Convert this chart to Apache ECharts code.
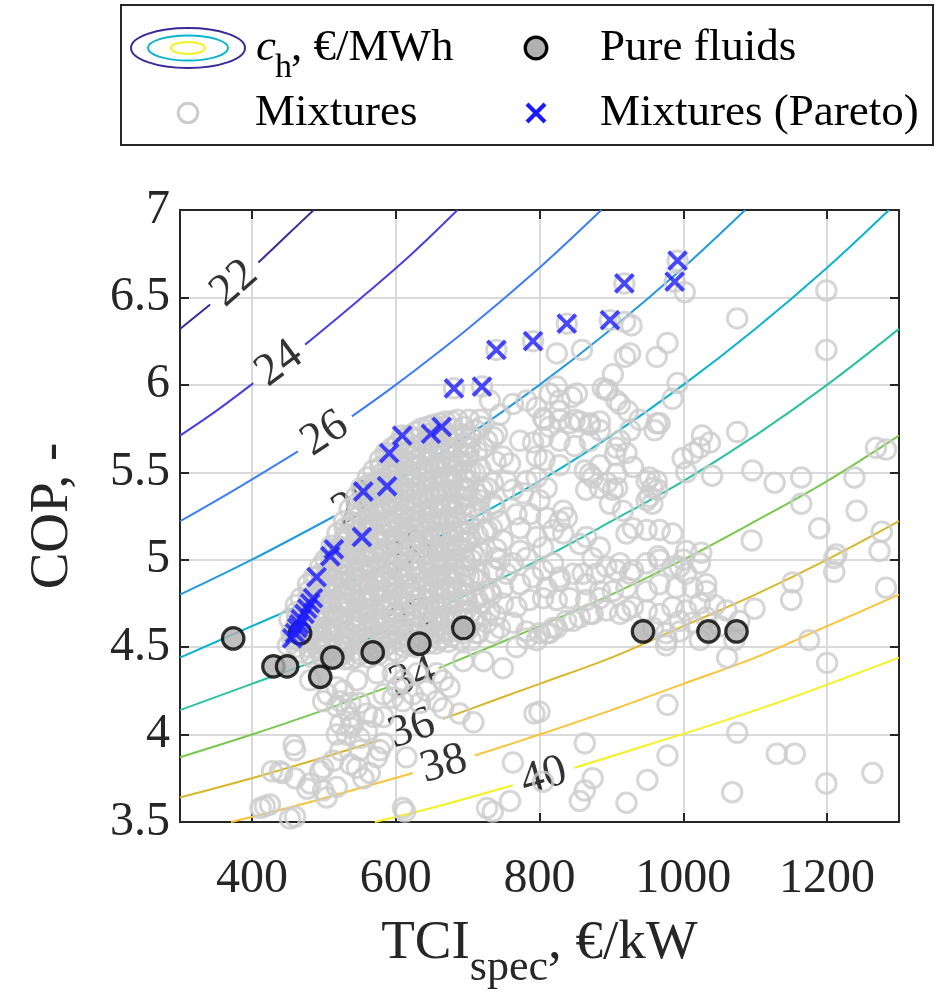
<!DOCTYPE html>
<html>
<head>
<meta charset="utf-8">
<script src="https://cdn.jsdelivr.net/npm/echarts@6/dist/echarts.min.js"></script>
<style>
  html, body { margin: 0; padding: 0; background: #ffffff; }
  #chart { width: 938px; height: 999px; }
</style>
</head>
<body>
<div id="chart"></div>
<script>
// Levelized heat cost contour levels, €/MWh
const levels = [22, 24, 26, 28, 30, 32, 34, 36, 38, 40];

// Contour polylines as [TCI_spec, COP]; null marks the gap where the level label sits
const contour22 = [[300, 6.32], [342, 6.46], null, [409, 6.70], [450, 6.86], [486, 7.00]];
const contour24 = [[300, 5.71], [350, 5.85], [402, 6.01], null, [474, 6.23], [550, 6.49], [620, 6.74], [686, 7.00]];
const contour26 = [[300, 5.22], [380, 5.41], [464, 5.62], null, [539, 5.82], [600, 6.00], [700, 6.32], [800, 6.67], [886, 7.00]];
const contour28 = [[300, 4.80], [400, 5.00], [515, 5.25], null, [575, 5.39], [700, 5.71], [800, 6.00], [900, 6.32], [1000, 6.67], [1086, 7.00]];
const contour30 = [[300, 4.44], [400, 4.62], [500, 4.80], [585, 4.97], null, [655, 5.12], [800, 5.45], [900, 5.71], [1000, 6.00], [1100, 6.32], [1200, 6.67], [1286, 7.00]];
const contour32 = [[300, 4.14], [400, 4.29], [500, 4.44], [590, 4.60], null, [658, 4.72], [800, 5.00], [900, 5.22], [1000, 5.45], [1100, 5.71], [1200, 6.00], [1300, 6.32]];
const contour34 = [[300, 3.87], [400, 4.00], [500, 4.14], [588, 4.27], null, [660, 4.38], [800, 4.62], [900, 4.80], [1000, 5.00], [1100, 5.22], [1200, 5.45], [1300, 5.71]];
const contour36 = [[300, 3.64], [400, 3.75], [500, 3.87], [579, 3.97], null, [666, 4.09], [800, 4.29], [900, 4.44], [1000, 4.62], [1100, 4.80], [1200, 5.00], [1300, 5.22]];
const contour38 = [[371, 3.50], [450, 3.58], [530, 3.67], [624, 3.78], null, [710, 3.88], [800, 4.00], [900, 4.14], [1000, 4.29], [1100, 4.44], [1200, 4.62], [1300, 4.80]];
const contour40 = [[571, 3.50], [650, 3.58], [763, 3.71], null, [849, 3.81], [950, 3.94], [1050, 4.07], [1150, 4.21], [1300, 4.44]];

// Pure working fluids [TCI_spec, COP]
const pureFluids = [[374, 4.55], [467, 4.58], [430, 4.39], [449, 4.39], [495, 4.33], [512, 4.44],
  [568, 4.47], [633, 4.52], [694, 4.61], [944, 4.59], [1035, 4.59], [1074, 4.59]];

// Pareto-optimal mixtures [TCI_spec, COP]
const pareto = [[992, 6.71], [988, 6.59], [918, 6.58], [898, 6.37], [838, 6.35], [791, 6.25], [740, 6.20],
  [720, 5.99], [681, 5.98], [664, 5.76], [649, 5.72], [609, 5.71], [591, 5.61], [588, 5.42], [555, 5.39],
  [553, 5.13], [514, 5.06], [509, 5.02], [490, 4.90], [485, 4.78], [481, 4.75], [477, 4.72], [473, 4.69],
  [468, 4.66], [466, 4.63], [463, 4.61], [460, 4.58], [456, 4.55]];

// Mixtures, spread part of the cloud [TCI_spec, COP]
const mixtures = [
  [1002, 6.53], [1199, 6.54], [1075, 6.38], [1199, 6.20], [919, 6.36], [928, 6.34], [859, 6.20], [824, 6.18],
  [926, 6.18], [919, 6.16], [963, 6.16], [978, 6.24], [902, 6.06], [895, 5.97], [888, 5.98], [912, 5.89],
  [923, 5.85], [992, 6.01], [985, 5.92], [824, 5.99], [845, 5.93], [1075, 5.73], [1026, 5.71], [1037, 5.67],
  [963, 5.78], [960, 5.74], [999, 5.58], [1004, 5.50], [1040, 5.48], [1096, 5.51], [1127, 5.44], [1164, 5.47],
  [1238, 5.47], [1268, 5.64], [1282, 5.63], [1164, 5.32], [1241, 5.28], [870, 5.49], [894, 5.44], [908, 5.41],
  [953, 5.47], [957, 5.41], [949, 5.34],
  [807, 5.80], [828, 5.85], [849, 5.80], [870, 5.77], [884, 5.74], [828, 5.68], [849, 5.65], [870, 5.68],
  [807, 5.57], [828, 5.54], [863, 5.51], [884, 5.54], [905, 5.60], [912, 5.68], [926, 5.74], [939, 5.80],
  [731, 5.91], [745, 5.83], [717, 5.80], [763, 5.89], [782, 5.91], [796, 5.87], [814, 5.95], [828, 5.91],
  [852, 5.95], [893, 5.97], [907, 5.91], [828, 5.80], [842, 5.78], [856, 5.79], [870, 5.78], [884, 5.79],
  [805, 5.81], [814, 5.76], [773, 5.68], [791, 5.67], [805, 5.70], [741, 5.72], [727, 5.68], [703, 5.64],
  [699, 5.59], [749, 5.59], [759, 5.55], [796, 5.59], [907, 5.64], [921, 5.61], [930, 5.53], [907, 5.49],
  [874, 5.47], [865, 5.40], [884, 5.41], [902, 5.40], [949, 5.45], [953, 5.36], [898, 5.32], [916, 5.28],
  [930, 5.18], [921, 5.15], [949, 5.17], [865, 5.13], [884, 5.07], [874, 5.01], [838, 5.24], [828, 5.22],
  [819, 5.17], [805, 5.07], [796, 5.13], [773, 5.18], [787, 5.26], [703, 5.45], [727, 5.41], [699, 5.36],
  [717, 5.34], [735, 5.32], [754, 5.45], [763, 5.40], [777, 5.38], [745, 5.22], [768, 5.26], [727, 5.17],
  [703, 5.13], [749, 5.11], [773, 5.05], [707, 5.04], [740, 5.01], [782, 5.45], [796, 5.47], [810, 5.41],
  [800, 5.34], [833, 5.28],
  [967, 5.78], [1023, 5.64], [1013, 5.61], [1189, 5.18], [1095, 5.11], [963, 5.45], [957, 5.32], [964, 5.40],
  [985, 5.15], [967, 5.17], [1025, 5.04], [1213, 5.03], [1276, 5.16], [1273, 5.05], [965, 5.02], [1000, 5.00],
  [1210, 5.01], [1210, 4.93], [1152, 4.87], [1150, 4.77], [1282, 4.84], [1099, 4.72], [1061, 4.44], [978, 4.17],
  [1175, 4.54], [1200, 4.41], [1075, 4.01], [1130, 3.89], [1155, 3.89], [1263, 3.78], [1199, 3.72], [1068, 3.67],
  [978, 3.88], [950, 3.74], [874, 3.75], [863, 3.68], [856, 3.62], [921, 3.61], [863, 3.95], [800, 4.13],
  [995, 4.96], [1032, 4.86], [1060, 4.71], [995, 4.65], [977, 4.54], [958, 4.61], [921, 4.71], [907, 4.94],
  [926, 4.92], [884, 4.82], [860, 4.92], [870, 4.69], [847, 4.65], [824, 4.61], [810, 4.58], [828, 4.90],
  [810, 4.84], [856, 5.09], [833, 5.15], [810, 5.24],
  [745, 5.00], [763, 4.98], [782, 5.01], [754, 4.92], [735, 4.94], [717, 4.88], [731, 4.82], [749, 4.84],
  [773, 4.86], [791, 4.90], [805, 4.94], [819, 4.98], [828, 4.88], [847, 4.92], [865, 4.86], [879, 4.92],
  [893, 4.96], [912, 4.98], [930, 4.94], [949, 4.98], [967, 5.00], [985, 4.96], [1004, 4.92], [1023, 4.98],
  [1013, 4.84], [990, 4.84], [967, 4.86], [949, 4.82], [921, 4.84], [902, 4.82], [884, 4.78], [865, 4.77],
  [842, 4.78], [824, 4.77], [805, 4.78], [786, 4.77], [768, 4.73], [749, 4.75], [731, 4.71], [717, 4.75],
  [699, 4.77], [708, 4.65], [727, 4.64], [745, 4.61], [763, 4.64], [782, 4.59], [800, 4.58], [819, 4.61],
  [837, 4.65], [856, 4.67], [874, 4.69], [893, 4.71], [912, 4.69], [930, 4.73], [949, 4.71], [967, 4.69],
  [985, 4.73], [1004, 4.71], [1023, 4.75], [1032, 4.82], [976, 4.58], [995, 4.59], [1013, 4.64], [1032, 4.67],
  [782, 4.55], [814, 4.58], [749, 4.38], [976, 4.51], [1051, 4.62], [1078, 4.65], [1044, 4.74], [1071, 4.54],
  [1023, 4.54], [1004, 5.05],
  [458, 3.94], [460, 3.91], [439, 3.79], [460, 3.75], [477, 3.69], [495, 3.79], [513, 3.85], [523, 3.91],
  [518, 3.70], [504, 3.64], [532, 4.00], [541, 4.06], [523, 4.06], [550, 3.98], [560, 4.02], [532, 4.14],
  [550, 4.18], [523, 4.19], [505, 4.23], [546, 3.81], [555, 3.75], [564, 3.78], [574, 3.87], [578, 3.91],
  [550, 3.91], [418, 3.59], [425, 3.60], [453, 3.52], [460, 3.53], [615, 3.87], [613, 3.56], [569, 4.10],
  [596, 4.21], [624, 4.23], [634, 4.18], [666, 4.15], [708, 4.07], [793, 4.12], [763, 3.84], [735, 3.56],
  [759, 3.62], [805, 3.73], [518, 4.16], [428, 3.79], [442, 3.78], [481, 3.72], [499, 3.68], [412, 3.58],
  [499, 3.81], [537, 3.83], [518, 4.00], [537, 4.04], [583, 3.95], [527, 4.25], [537, 4.10], [560, 4.12],
  [610, 4.19], [643, 4.25], [666, 4.31], [689, 4.12], [583, 4.10], [583, 4.23], [610, 3.58], [727, 3.58],
  [610, 4.31], [596, 4.35], [546, 4.31], [574, 4.35], [602, 4.27], [630, 4.35], [657, 4.35], [675, 4.27],
  [518, 4.27], [499, 4.19], [537, 4.18], [481, 4.31], [657, 4.19], [694, 4.42], [722, 4.42], [768, 4.50],
  [796, 4.54]
];

// Mixtures, densely packed core of the cloud [TCI_spec, COP]
const mixturesCore = [
  [452, 4.66], [455, 4.58], [450, 4.51],
  [468, 4.78], [472, 4.70], [469, 4.62], [473, 4.54], [467, 4.47],
  [486, 4.90], [489, 4.82], [485, 4.74], [488, 4.66], [486, 4.58], [490, 4.50], [484, 4.44],
  [502, 5.00], [505, 4.93], [501, 4.84], [504, 4.76], [500, 4.68], [506, 4.60], [503, 4.52], [499, 4.44],
  [519, 5.15], [522, 5.07], [518, 5.00], [521, 4.92], [517, 4.84], [523, 4.76], [520, 4.68], [516, 4.60], [522, 4.52], [519, 4.44],
  [536, 5.29], [539, 5.21], [535, 5.14], [538, 5.06], [534, 4.98], [540, 4.90], [537, 4.82], [533, 4.74], [539, 4.66], [536, 4.58], [532, 4.50], [538, 4.43],
  [552, 5.41], [555, 5.34], [551, 5.26], [554, 5.18], [550, 5.10], [556, 5.02], [553, 4.94], [549, 4.86], [555, 4.78], [552, 4.70], [548, 4.62], [554, 4.54], [551, 4.46],
  [569, 5.51], [572, 5.44], [568, 5.36], [571, 5.28], [567, 5.20], [573, 5.12], [570, 5.04], [566, 4.96], [572, 4.88], [569, 4.80], [565, 4.72], [571, 4.64], [568, 4.56], [572, 4.48],
  [586, 5.61], [589, 5.54], [585, 5.46], [588, 5.38], [584, 5.30], [590, 5.22], [587, 5.14], [583, 5.06], [589, 4.98], [586, 4.90], [582, 4.82], [588, 4.74], [585, 4.66], [589, 4.58], [584, 4.50],
  [602, 5.66], [605, 5.58], [601, 5.50], [604, 5.42], [600, 5.34], [606, 5.26], [603, 5.18], [599, 5.10], [605, 5.02], [602, 4.94], [598, 4.86], [604, 4.78], [601, 4.70], [605, 4.62], [600, 4.54], [603, 4.47],
  [619, 5.71], [622, 5.63], [618, 5.55], [621, 5.47], [617, 5.39], [623, 5.31], [620, 5.23], [616, 5.15], [622, 5.07], [619, 4.99], [615, 4.91], [621, 4.83], [618, 4.75], [622, 4.67], [617, 4.59], [620, 4.51],
  [636, 5.75], [639, 5.67], [635, 5.59], [638, 5.51], [634, 5.43], [640, 5.35], [637, 5.27], [633, 5.19], [639, 5.11], [636, 5.03], [632, 4.95], [638, 4.87], [635, 4.79], [639, 4.71], [634, 4.63], [637, 4.55],
  [652, 5.77], [655, 5.70], [651, 5.62], [654, 5.54], [650, 5.46], [656, 5.38], [653, 5.30], [649, 5.22], [655, 5.14], [652, 5.06], [648, 4.98], [654, 4.90], [651, 4.82], [655, 4.74], [650, 4.66], [653, 4.58], [656, 4.52],
  [669, 5.79], [672, 5.71], [668, 5.63], [671, 5.55], [667, 5.47], [673, 5.39], [670, 5.31], [666, 5.23], [672, 5.15], [669, 5.07], [665, 4.99], [671, 4.91], [668, 4.83], [672, 4.75], [667, 4.67], [670, 4.59], [673, 4.53],
  [686, 5.80], [689, 5.72], [685, 5.64], [688, 5.56], [684, 5.48], [690, 5.40], [687, 5.32], [683, 5.24], [689, 5.16], [686, 5.08], [682, 5.00], [688, 4.92], [685, 4.84], [689, 4.76], [684, 4.68], [687, 4.60], [690, 4.54],
  [702, 5.80], [705, 5.70], [701, 5.60], [704, 5.50], [700, 5.40], [706, 5.30], [703, 5.20], [699, 5.10], [705, 5.00], [702, 4.90], [698, 4.80], [704, 4.70], [701, 4.60], [705, 4.54],
  [719, 5.76], [722, 5.64], [718, 5.52], [721, 5.40], [717, 5.28], [723, 5.16], [720, 5.04], [716, 4.92], [722, 4.80], [719, 4.68], [715, 4.58],
  [736, 5.70], [739, 5.56], [735, 5.44], [738, 5.30], [734, 5.18], [740, 5.06], [737, 4.94], [733, 4.80], [739, 4.68], [736, 4.58],
  [461, 4.74], [463, 4.66], [460, 4.58], [462, 4.50],
  [478, 4.86], [480, 4.78], [477, 4.70], [479, 4.62], [476, 4.54], [481, 4.46],
  [495, 4.96], [497, 4.88], [494, 4.80], [496, 4.72], [493, 4.64], [498, 4.56], [495, 4.48],
  [511, 5.08], [513, 5.00], [510, 4.92], [512, 4.84], [509, 4.76], [514, 4.68], [511, 4.60], [508, 4.52], [512, 4.44],
  [528, 5.22], [530, 5.14], [527, 5.06], [529, 4.98], [526, 4.90], [531, 4.82], [528, 4.74], [525, 4.66], [530, 4.58], [527, 4.50], [529, 4.43],
  [545, 5.36], [547, 5.28], [544, 5.20], [546, 5.12], [543, 5.04], [548, 4.96], [545, 4.88], [542, 4.80], [547, 4.72], [544, 4.64], [546, 4.56], [543, 4.48],
  [561, 5.47], [563, 5.39], [560, 5.31], [562, 5.23], [559, 5.15], [564, 5.07], [561, 4.99], [558, 4.91], [563, 4.83], [560, 4.75], [562, 4.67], [559, 4.59], [561, 4.51], [563, 4.44],
  [578, 5.57], [580, 5.49], [577, 5.41], [579, 5.33], [576, 5.25], [581, 5.17], [578, 5.09], [575, 5.01], [580, 4.93], [577, 4.85], [579, 4.77], [576, 4.69], [578, 4.61], [580, 4.53], [577, 4.46],
  [595, 5.64], [597, 5.56], [594, 5.48], [596, 5.40], [593, 5.32], [598, 5.24], [595, 5.16], [592, 5.08], [597, 5.00], [594, 4.92], [596, 4.84], [593, 4.76], [595, 4.68], [597, 4.60], [594, 4.52],
  [611, 5.69], [613, 5.61], [610, 5.53], [612, 5.45], [609, 5.37], [614, 5.29], [611, 5.21], [608, 5.13], [613, 5.05], [610, 4.97], [612, 4.89], [609, 4.81], [611, 4.73], [613, 4.65], [610, 4.57], [612, 4.50],
  [628, 5.73], [630, 5.65], [627, 5.57], [629, 5.49], [626, 5.41], [631, 5.33], [628, 5.25], [625, 5.17], [630, 5.09], [627, 5.01], [629, 4.93], [626, 4.85], [628, 4.77], [630, 4.69], [627, 4.61], [629, 4.53],
  [645, 5.76], [647, 5.68], [644, 5.60], [646, 5.52], [643, 5.44], [648, 5.36], [645, 5.28], [642, 5.20], [647, 5.12], [644, 5.04], [646, 4.96], [643, 4.88], [645, 4.80], [647, 4.72], [644, 4.64], [646, 4.56],
  [661, 5.78], [663, 5.70], [660, 5.62], [662, 5.54], [659, 5.46], [664, 5.38], [661, 5.30], [658, 5.22], [663, 5.14], [660, 5.06], [662, 4.98], [659, 4.90], [661, 4.82], [663, 4.74], [660, 4.66], [662, 4.58],
  [678, 5.79], [680, 5.71], [677, 5.63], [679, 5.55], [676, 5.47], [681, 5.39], [678, 5.31], [675, 5.23], [680, 5.15], [677, 5.07], [679, 4.99], [676, 4.91], [678, 4.83], [680, 4.75], [677, 4.67], [679, 4.59],
  [695, 5.76], [697, 5.66], [694, 5.56], [696, 5.46], [693, 5.36], [698, 5.26], [695, 5.16], [692, 5.06], [697, 4.96], [694, 4.86], [696, 4.76], [693, 4.66], [695, 4.58],
  [711, 5.74], [713, 5.62], [710, 5.50], [712, 5.38], [709, 5.26], [714, 5.14], [711, 5.02], [708, 4.90], [713, 4.78], [710, 4.66], [712, 4.58],
  [462, 4.70], [461, 4.62], [463, 4.54],
  [479, 4.82], [477, 4.74], [480, 4.66], [478, 4.58], [479, 4.50],
  [496, 4.92], [494, 4.84], [497, 4.76], [495, 4.68], [496, 4.60], [494, 4.52], [497, 4.45],
  [512, 5.04], [510, 4.96], [513, 4.88], [511, 4.80], [512, 4.72], [510, 4.64], [513, 4.56], [511, 4.48],
  [529, 5.18], [527, 5.10], [530, 5.02], [528, 4.94], [529, 4.86], [527, 4.78], [530, 4.70], [528, 4.62], [529, 4.54], [527, 4.46],
  [546, 5.32], [544, 5.24], [547, 5.16], [545, 5.08], [546, 5.00], [544, 4.92], [547, 4.84], [545, 4.76], [546, 4.68], [544, 4.60], [547, 4.52], [545, 4.44],
  [562, 5.43], [560, 5.35], [563, 5.27], [561, 5.19], [562, 5.11], [560, 5.03], [563, 4.95], [561, 4.87], [562, 4.79], [560, 4.71], [563, 4.63], [561, 4.55], [562, 4.47],
  [579, 5.53], [577, 5.45], [580, 5.37], [578, 5.29], [579, 5.21], [577, 5.13], [580, 5.05], [578, 4.97], [579, 4.89], [577, 4.81], [580, 4.73], [578, 4.65], [579, 4.57], [577, 4.49],
  [596, 5.60], [594, 5.52], [597, 5.44], [595, 5.36], [596, 5.28], [594, 5.20], [597, 5.12], [595, 5.04], [596, 4.96], [594, 4.88], [597, 4.80], [595, 4.72], [596, 4.64], [594, 4.56], [597, 4.48],
  [612, 5.65], [610, 5.57], [613, 5.49], [611, 5.41], [612, 5.33], [610, 5.25], [613, 5.17], [611, 5.09], [612, 5.01], [610, 4.93], [613, 4.85], [611, 4.77], [612, 4.69], [610, 4.61], [613, 4.53],
  [629, 5.69], [627, 5.61], [630, 5.53], [628, 5.45], [629, 5.37], [627, 5.29], [630, 5.21], [628, 5.13], [629, 5.05], [627, 4.97], [630, 4.89], [628, 4.81], [629, 4.73], [627, 4.65], [630, 4.57], [628, 4.50],
  [646, 5.72], [644, 5.64], [647, 5.56], [645, 5.48], [646, 5.40], [644, 5.32], [647, 5.24], [645, 5.16], [646, 5.08], [644, 5.00], [647, 4.92], [645, 4.84], [646, 4.76], [644, 4.68], [647, 4.60], [645, 4.52],
  [662, 5.74], [660, 5.66], [663, 5.58], [661, 5.50], [662, 5.42], [660, 5.34], [663, 5.26], [661, 5.18], [662, 5.10], [660, 5.02], [663, 4.94], [661, 4.86], [662, 4.78], [660, 4.70], [663, 4.62], [661, 4.54],
  [679, 5.75], [677, 5.67], [680, 5.59], [678, 5.51], [679, 5.43], [677, 5.35], [680, 5.27], [678, 5.19], [679, 5.11], [677, 5.03], [680, 4.95], [678, 4.87], [679, 4.79], [677, 4.71], [680, 4.63], [678, 4.56],
  [696, 5.71], [694, 5.61], [697, 5.51], [695, 5.41], [696, 5.31], [694, 5.21], [697, 5.11], [695, 5.01], [696, 4.91], [694, 4.81], [697, 4.71], [695, 4.62]
];

const xTicks = [400, 600, 800, 1000, 1200];

const contours = [contour22, contour24, contour26, contour28, contour30, contour32, contour34, contour36, contour38, contour40];
const levelColors = ['#3b2a98', '#4a3fe0', '#3c7ef5', '#2299e0', '#0bb3cf', '#2dc29e', '#79c84f', '#d8b72c', '#fbc338', '#f5f020'];

const serif = 'Liberation Serif';
const axisColor = '#262626';
const gridColor = '#dadada';
const mixColor = '#cccccc';
const pureFill = '#b0b0b0';
const paretoColor = '#1a1aff';

const chart = echarts.init(document.getElementById('chart'), null, { renderer: 'canvas' });

const series = [];
contours.forEach(function (c, i) {
  series.push({
    type: 'line',
    name: 'c' + levels[i],
    data: c.map(function (p) { return p === null ? ['-', '-'] : p; }),
    smooth: 0.35,
    symbol: 'none',
    showSymbol: false,
    connectNulls: false,
    lineStyle: { color: levelColors[i], width: 2 },
    z: 1,
    silent: true
  });
});

// Level labels placed in the gaps of the contour lines
series.push({
  id: 'contourLabels',
  type: 'scatter',
  data: [],
  symbolSize: 1,
  itemStyle: { color: 'transparent' },
  label: {
    show: true,
    position: 'inside',
    formatter: function (p) { return String(p.value[2]); },
    fontFamily: serif,
    fontSize: 46,
    color: '#000000'
  },
  z: 1,
  silent: true
});

series.push({
  type: 'scatter',
  name: 'Mixtures',
  data: mixtures.concat(mixturesCore, pareto),
  symbol: 'circle',
  symbolSize: 19.5,
  itemStyle: { color: 'transparent', borderColor: mixColor, borderWidth: 3 },
  z: 3,
  silent: true
});

series.push({
  type: 'scatter',
  name: 'Pure fluids',
  data: pureFluids,
  symbol: 'circle',
  symbolSize: 21.5,
  itemStyle: { color: pureFill, borderColor: '#000000', borderWidth: 3.2 },
  z: 4,
  silent: true
});

series.push({
  type: 'scatter',
  name: 'Mixtures (Pareto)',
  data: pareto,
  symbol: 'path://M0,0L10,10M10,0L0,10',
  symbolSize: 18,
  itemStyle: { color: 'transparent', borderColor: paretoColor, borderWidth: 4 },
  z: 5,
  silent: true
});

const legendFont = { fontFamily: serif, fontSize: 45, fill: '#000000', verticalAlign: 'middle' };

const option = {
  animation: false,
  backgroundColor: '#ffffff',
  grid: { left: 180, right: 39, top: 210, bottom: 177 },
  xAxis: [
    {
      type: 'value', position: 'bottom', min: 300, max: 1300,
      axisLine: { show: true, onZero: false, lineStyle: { color: axisColor, width: 2 } },
      axisTick: { show: true, inside: true, length: 9, customValues: xTicks, lineStyle: { color: axisColor, width: 2 } },
      axisLabel: {
        show: true, customValues: xTicks, margin: 33, fontFamily: serif, fontSize: 48, color: axisColor,
        formatter: function (v) { return String(v); }
      },
      splitLine: { show: true, lineStyle: { color: gridColor, width: 2 } },
      name: '{a|TCI}{b|spec}{a|, €/kW}',
      nameLocation: 'middle',
      nameGap: 94,
      nameTextStyle: {
        color: axisColor,
        rich: {
          a: { fontFamily: serif, fontSize: 55, color: axisColor, verticalAlign: 'top' },
          b: { fontFamily: serif, fontSize: 44, color: axisColor, verticalAlign: 'top', padding: [30, 0, 0, 0] }
        }
      }
    },
    {
      type: 'value', position: 'top', min: 300, max: 1300,
      axisLine: { show: true, onZero: false, lineStyle: { color: axisColor, width: 2 } },
      axisTick: { show: true, inside: true, length: 9, customValues: xTicks, lineStyle: { color: axisColor, width: 2 } },
      axisLabel: { show: false },
      splitLine: { show: false }
    }
  ],
  yAxis: [
    {
      type: 'value', position: 'left', min: 3.5, max: 7, interval: 0.5,
      axisLine: { show: true, onZero: false, lineStyle: { color: axisColor, width: 2 } },
      axisTick: { show: true, inside: true, length: 9, lineStyle: { color: axisColor, width: 2 } },
      axisLabel: { show: true, margin: 10, fontFamily: serif, fontSize: 48, color: axisColor },
      splitLine: { show: true, lineStyle: { color: gridColor, width: 2 } },
      name: 'COP, -',
      nameLocation: 'middle',
      nameGap: 100,
      nameTextStyle: { fontFamily: serif, fontSize: 55, color: axisColor }
    },
    {
      type: 'value', position: 'right', min: 3.5, max: 7, interval: 0.5,
      axisLine: { show: true, onZero: false, lineStyle: { color: axisColor, width: 2 } },
      axisTick: { show: true, inside: true, length: 9, lineStyle: { color: axisColor, width: 2 } },
      axisLabel: { show: false },
      splitLine: { show: false }
    }
  ],
  // Legend box with its four entries
  graphic: [
    { type: 'rect', shape: { x: 121, y: 5, width: 812, height: 140 },
      style: { fill: '#ffffff', stroke: axisColor, lineWidth: 2 } },
    { type: 'ellipse', shape: { cx: 188, cy: 48, rx: 57, ry: 20 },
      style: { fill: 'none', stroke: levelColors[0], lineWidth: 2 } },
    { type: 'ellipse', shape: { cx: 188, cy: 48, rx: 40, ry: 12.5 },
      style: { fill: 'none', stroke: levelColors[4], lineWidth: 2 } },
    { type: 'ellipse', shape: { cx: 188, cy: 48, rx: 17, ry: 6 },
      style: { fill: 'none', stroke: levelColors[9], lineWidth: 2 } },
    { type: 'text', x: 256, y: 48,
      style: { text: 'c', fontFamily: serif, fontSize: 45, fontStyle: 'italic', fill: '#000000', verticalAlign: 'middle' } },
    { type: 'text', x: 275, y: 68,
      style: { text: 'h', fontFamily: serif, fontSize: 34, fill: '#000000', verticalAlign: 'middle' } },
    { type: 'text', x: 291, y: 48, style: Object.assign({ text: ', €/MWh' }, legendFont) },
    { type: 'circle', shape: { cx: 536, cy: 48, r: 10.8 },
      style: { fill: pureFill, stroke: '#000000', lineWidth: 3.2 } },
    { type: 'text', x: 600, y: 48, style: Object.assign({ text: 'Pure fluids' }, legendFont) },
    { type: 'circle', shape: { cx: 188, cy: 113, r: 9.8 },
      style: { fill: 'none', stroke: mixColor, lineWidth: 3 } },
    { type: 'text', x: 255, y: 113, style: Object.assign({ text: 'Mixtures' }, legendFont) },
    { type: 'polyline', shape: { points: [[527, 104], [545, 122]] },
      style: { stroke: paretoColor, lineWidth: 4 } },
    { type: 'polyline', shape: { points: [[545, 104], [527, 122]] },
      style: { stroke: paretoColor, lineWidth: 4 } },
    { type: 'text', x: 600, y: 113, style: Object.assign({ text: 'Mixtures (Pareto)' }, legendFont) }
  ],
  series: series
};

chart.setOption(option);

// Rotate each level label along its contour, using the two ends of the gap
const labelData = contours.map(function (c, i) {
  const k = c.indexOf(null);
  const a = c[k - 1];
  const b = c[k + 1];
  const pa = chart.convertToPixel({ gridIndex: 0 }, a);
  const pb = chart.convertToPixel({ gridIndex: 0 }, b);
  const angle = Math.atan2(pa[1] - pb[1], pb[0] - pa[0]) * 180 / Math.PI;
  return {
    value: [(a[0] + b[0]) / 2, (a[1] + b[1]) / 2, levels[i]],
    label: { rotate: angle }
  };
});
chart.setOption({ series: [{ id: 'contourLabels', data: labelData }] });
</script>
</body>
</html>
